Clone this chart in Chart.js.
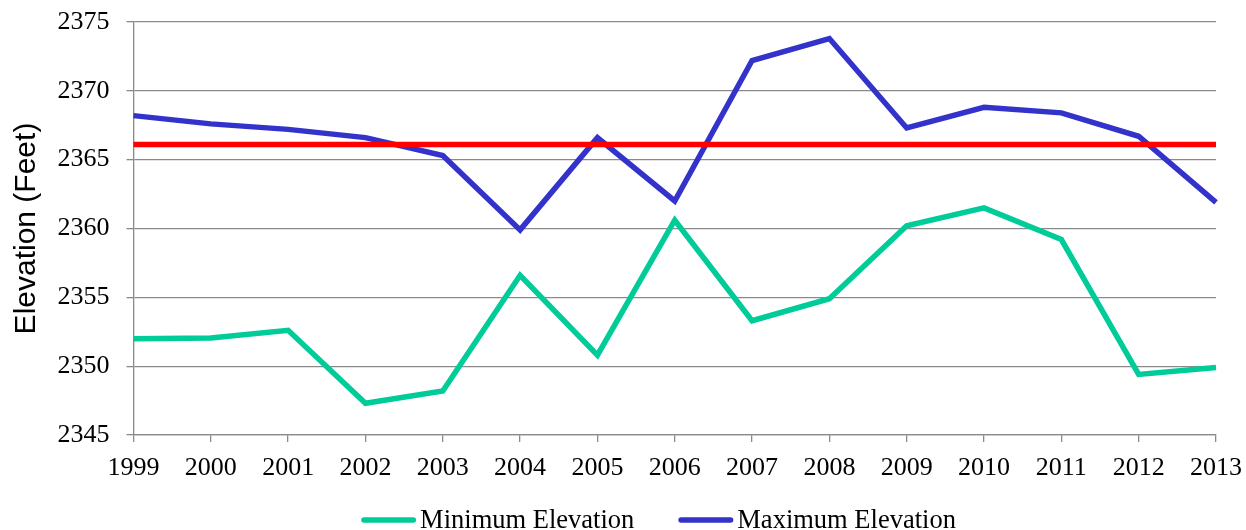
<!DOCTYPE html>
<html>
<head>
<meta charset="utf-8">
<title>Elevation</title>
<script src="https://cdn.jsdelivr.net/npm/chart.js@4/dist/chart.umd.min.js"></script>
<style>
  html, body { margin: 0; padding: 0; background: #fff; overflow: hidden; }
  #wrap { width: 1246px; height: 530px; }
</style>
</head>
<body>
<div id="wrap"><canvas id="chart" width="1246" height="530"></canvas></div>
<script>
// Yearly lake elevation range (feet)
const years = ['1999', '2000', '2001', '2002', '2003', '2004', '2005', '2006',
               '2007', '2008', '2009', '2010', '2011', '2012', '2013'];
const minElevation = [2352.0, 2352.05, 2352.6, 2347.3, 2348.2, 2356.6, 2350.8, 2360.6,
                      2353.3, 2354.9, 2360.2, 2361.5, 2359.2, 2349.4, 2349.9];
const maxElevation = [2368.2, 2367.6, 2367.2, 2366.6, 2365.3, 2359.9, 2366.6, 2362.0,
                      2372.2, 2373.8, 2367.3, 2368.8, 2368.4, 2366.7, 2361.9];
// Reference level drawn as a flat red line across every year
const referenceLevel = [2366.1, 2366.1, 2366.1, 2366.1, 2366.1, 2366.1, 2366.1, 2366.1,
                        2366.1, 2366.1, 2366.1, 2366.1, 2366.1, 2366.1, 2366.1];
const yTicks = { min: 2345, max: 2375, step: 5 };
const seriesNames = ['Minimum Elevation', 'Maximum Elevation'];

const GRID = '#8a8a8a';
const SERIF = '"Liberation Serif", "Times New Roman", serif';
const SANS = '"Liberation Sans", Arial, sans-serif';

// Legend drawn under the axis: short line sample followed by the series name
const bottomLegend = {
  id: 'bottomLegend',
  afterDraw(chart, args, opts) {
    const ctx = chart.ctx;
    ctx.save();
    ctx.font = opts.fontSize + 'px ' + SERIF;
    const items = chart.data.datasets.filter(d => d.inLegend !== false);
    const widths = items.map(d => opts.lineLength + opts.gap + ctx.measureText(d.label).width);
    const total = widths.reduce((a, b) => a + b, 0) + opts.spacing * (items.length - 1);
    let x = opts.centerX - total / 2;
    items.forEach((d, i) => {
      ctx.strokeStyle = d.borderColor;
      ctx.lineWidth = d.borderWidth;
      ctx.lineCap = 'round';
      ctx.beginPath();
      ctx.moveTo(x + d.borderWidth / 2, opts.lineY);
      ctx.lineTo(x + opts.lineLength - d.borderWidth / 2, opts.lineY);
      ctx.stroke();
      ctx.fillStyle = '#000';
      ctx.textAlign = 'left';
      ctx.textBaseline = 'alphabetic';
      ctx.fillText(d.label, x + opts.lineLength + opts.gap, opts.baseline);
      x += widths[i] + opts.spacing;
    });
    ctx.restore();
  }
};

new Chart(document.getElementById('chart'), {
  type: 'line',
  data: {
    labels: years,
    datasets: [
      {
        label: seriesNames[0],
        data: minElevation,
        borderColor: '#00CC99',
        backgroundColor: '#00CC99',
        borderWidth: 5.5,
        pointRadius: 0,
        tension: 0,
        order: 1
      },
      {
        label: seriesNames[1],
        data: maxElevation,
        borderColor: '#3333CC',
        backgroundColor: '#3333CC',
        borderWidth: 5.5,
        pointRadius: 0,
        tension: 0,
        order: 1
      },
      {
        label: 'Reference',
        data: referenceLevel,
        borderColor: '#FF0000',
        backgroundColor: '#FF0000',
        borderWidth: 5.5,
        pointRadius: 0,
        tension: 0,
        inLegend: false,
        order: 0
      }
    ]
  },
  options: {
    responsive: false,
    animation: false,
    devicePixelRatio: 1,
    layout: { padding: { left: 0, right: 30, top: 22, bottom: 0 } },
    plugins: {
      legend: { display: false },
      tooltip: { enabled: false },
      bottomLegend: {
        fontSize: 26.5,
        lineLength: 55,
        gap: 4,
        spacing: 44,
        centerX: 658.5,
        lineY: 520,
        baseline: 528
      }
    },
    scales: {
      x: {
        offset: false,
        grid: { display: true, drawOnChartArea: false, drawTicks: true, tickLength: 7, color: GRID, lineWidth: 1.3 },
        border: { color: GRID, width: 1.3 },
        ticks: { padding: 11, color: '#000', maxRotation: 0, autoSkip: false, font: { family: SERIF, size: 26 } },
        afterFit: s => {
          s.height = 95;
          s.paddingLeft = 0;
          s.paddingRight = 0;
        }
      },
      y: {
        min: yTicks.min,
        max: yTicks.max,
        grid: { color: GRID, lineWidth: 1.3, tickLength: 7, drawTicks: true },
        border: { color: GRID, width: 1.3 },
        ticks: {
          stepSize: yTicks.step,
          padding: 17,
          color: '#000',
          font: { family: SERIF, size: 26 },
          callback: v => String(v)
        },
        title: {
          display: true,
          text: 'Elevation (Feet)',
          color: '#000',
          font: { family: SANS, size: 30 },
          padding: { top: 9, bottom: 0 }
        },
        afterFit: s => {
          s.width = 133.5;
          s.paddingTop = 0;
          s.paddingBottom = 0;
        }
      }
    }
  },
  plugins: [bottomLegend]
});
</script>
</body>
</html>
